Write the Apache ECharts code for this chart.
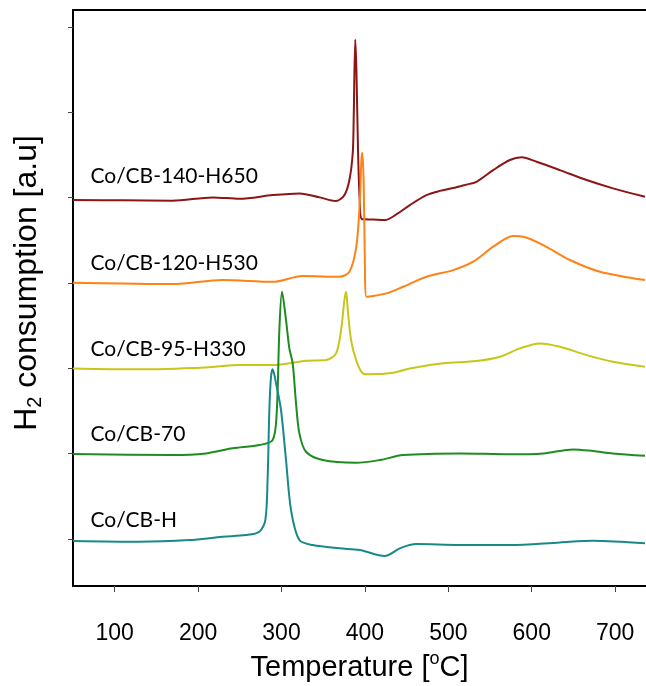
<!DOCTYPE html>
<html>
<head>
<meta charset="utf-8">
<title>H2-TPR profiles</title>
<script src="https://cdn.jsdelivr.net/npm/echarts@6/dist/echarts.min.js"></script>
<style>
  html, body { margin: 0; padding: 0; background: #fff; }
  #chart { width: 646px; height: 686px; }
</style>
</head>
<body>
<div id="chart"></div>
<script>
// Temperature tick labels on the x axis (°C)
const tempTicks = [100, 200, 300, 400, 500, 600, 700];
// Baseline offsets used to stack the profiles (one tick per sample)
const offsetTicks = [0, 1, 2, 3, 4, 5, 6];

// Sample names, top to bottom
const sampleNames = ['Co/CB-140-H650', 'Co/CB-120-H530', 'Co/CB-95-H330', 'Co/CB-70', 'Co/CB-H'];

// Co/CB-140-H650 (stacked at offset 4)
const tH650 = [50, 110, 169.4, 217.4, 249.8, 289.4, 321.8, 345.8, 365, 375.4, 381.4, 385.4, 386.5, 388.4, 389.8, 391.8, 393.8, 396.2, 410, 423.8, 440, 453.8, 473.8, 490, 505.4, 520, 533.8, 553.8, 573.8, 587.8, 605.8, 633.8, 665.8, 697.4, 735.8];
const yH650 = [3.973, 3.970, 3.965, 4.004, 3.988, 4.031, 4.051, 4.004, 3.961, 4.031, 4.207, 4.524, 4.910, 5.854, 5.496, 4.524, 3.961, 3.750, 3.745, 3.738, 3.820, 3.914, 4.031, 4.080, 4.113, 4.150, 4.187, 4.324, 4.442, 4.473, 4.422, 4.324, 4.207, 4.110, 4.012];

// Co/CB-120-H530 (offset 3)
const tH530 = [50, 110, 169.4, 229.4, 289.4, 325.4, 369.4, 381.4, 389.6, 393.8, 395.8, 397.0, 398.6, 399.8, 401.8, 425.8, 445.8, 473.8, 505.8, 529.8, 553.8, 577.8, 589.8, 613.8, 645.8, 681.8, 735.8];
const yH530 = [3.004, 2.995, 2.988, 3.035, 3.015, 3.082, 3.074, 3.133, 3.422, 3.938, 4.442, 4.527, 4.129, 3.352, 2.840, 2.879, 2.957, 3.074, 3.152, 3.250, 3.426, 3.551, 3.543, 3.445, 3.270, 3.133, 3.035];

// Co/CB-95-H330 (offset 2)
const tH330 = [50, 129.4, 209.4, 249.4, 289.4, 329.4, 353.4, 365.4, 371.4, 375.4, 377.4, 379.8, 383.4, 389.4, 397.4, 405.8, 433.8, 453.8, 493.8, 533.8, 561.8, 585.8, 609.8, 633.8, 665.8, 697.4, 735.8];
const yH330 = [2.000, 1.989, 2.012, 2.039, 2.039, 2.090, 2.098, 2.176, 2.449, 2.801, 2.898, 2.645, 2.332, 2.098, 1.942, 1.930, 1.949, 2.000, 2.059, 2.086, 2.136, 2.235, 2.293, 2.254, 2.156, 2.078, 2.019];

// Co/CB-70 (offset 1)
const t70 = [50, 169.4, 209.4, 241.4, 273.4, 289.4, 294.2, 297.4, 300.6, 305.4, 309.4, 313.4, 317.4, 321.4, 329.4, 349.4, 389.4, 417.8, 445.8, 513.8, 573.8, 613.8, 649.8, 673.8, 697.4, 735.8];
const y70 = [0.996, 0.984, 1.004, 1.063, 1.102, 1.160, 1.473, 2.449, 2.898, 2.566, 2.235, 2.059, 1.590, 1.239, 1.023, 0.926, 0.894, 0.926, 0.984, 1.004, 0.993, 1.004, 1.051, 1.031, 1.004, 0.976];

// Co/CB-H (offset 0)
const tH = [50, 129.4, 189.4, 229.4, 257.4, 273.4, 280.6, 283.4, 285.4, 287.4, 289.4, 293.4, 299.4, 305.4, 311.4, 321.4, 337.4, 369.4, 393.8, 423.8, 441.8, 461.8, 513.8, 573.8, 633.8, 673.8, 735.8];
const yH = [-0.023, -0.032, -0.012, 0.027, 0.047, 0.086, 0.223, 0.730, 1.512, 1.902, 1.989, 1.825, 1.512, 0.926, 0.340, -0.012, -0.070, -0.109, -0.129, -0.199, -0.109, -0.059, -0.070, -0.070, -0.039, -0.020, -0.050];

// Where each sample name is written (temperature, offset)
const labelT = [71, 71, 71, 71, 71];
const labelY = [4.254, 3.234, 2.227, 1.225, 0.217];

const colors = ['#8c1616', '#ff8214', '#c8c619', '#1f8c1f', '#18898a'];
const temps = [tH650, tH530, tH330, t70, tH];
const values = [yH650, yH530, yH330, y70, yH];

function pairs(xs, ys) {
  return xs.map((x, i) => [x, ys[i]]);
}

const series = sampleNames.map((name, i) => ({
  name: name,
  type: 'line',
  data: pairs(temps[i], values[i]),
  showSymbol: false,
  smooth: 0.3,
  lineStyle: { color: colors[i], width: 2 },
  itemStyle: { color: colors[i] },
  markPoint: {
    symbol: 'circle',
    symbolSize: 0,
    silent: true,
    data: [{ coord: [labelT[i], labelY[i]], value: name }],
    label: {
      show: true,
      position: 'right',
      distance: 0,
      formatter: name,
      color: '#000',
      fontFamily: 'Lato',
      fontSize: 21
    }
  }
}));

const chart = echarts.init(document.getElementById('chart'), null, { renderer: 'canvas' });
chart.setOption({
  animation: false,
  backgroundColor: '#fff',
  grid: { left: 73, top: 10, right: 0, bottom: 100, containLabel: false, outerBoundsMode: 'none' },
  xAxis: [{
    type: 'value',
    min: 50,
    max: 737,
    name: 'Temperature [{sup|o}C]',
    nameLocation: 'middle',
    nameGap: 62,
    nameTextStyle: {
      fontFamily: 'Liberation Sans',
      fontSize: 29,
      color: '#000',
      lineHeight: 36,
      rich: {
        sup: { fontFamily: 'Liberation Sans', fontSize: 18, color: '#000', verticalAlign: 'top', lineHeight: 20 }
      }
    },
    splitLine: { show: false },
    axisLine: { show: true, onZero: false, lineStyle: { color: '#000', width: 2 } },
    axisTick: { show: true, customValues: tempTicks, length: 6, lineStyle: { color: '#444', width: 1 } },
    axisLabel: {
      customValues: tempTicks,
      margin: 36,
      fontFamily: 'Liberation Sans',
      fontSize: 23,
      color: '#000'
    }
  }, {
    type: 'value',
    position: 'top',
    min: 50,
    max: 737,
    splitLine: { show: false },
    axisLine: { show: true, onZero: false, lineStyle: { color: '#000', width: 2 } },
    axisTick: { show: false },
    axisLabel: { show: false }
  }],
  yAxis: {
    type: 'value',
    min: -0.55,
    max: 6.2,
    name: 'H{sub|2} consumption [a.u]',
    nameLocation: 'middle',
    nameRotate: 90,
    nameGap: 28,
    nameTextStyle: {
      fontFamily: 'Liberation Sans',
      fontSize: 32,
      color: '#000',
      padding: [0, 0, 0, 30],
      lineHeight: 36,
      rich: {
        sub: { fontFamily: 'Liberation Sans', fontSize: 20, color: '#000', verticalAlign: 'bottom', lineHeight: 26 }
      }
    },
    splitLine: { show: false },
    axisLine: { show: true, onZero: false, lineStyle: { color: '#000', width: 2 } },
    axisTick: { show: true, customValues: offsetTicks, length: 5, lineStyle: { color: '#444', width: 1 } },
    axisLabel: { show: false, customValues: offsetTicks }
  },
  series: series
});
</script>
</body>
</html>
